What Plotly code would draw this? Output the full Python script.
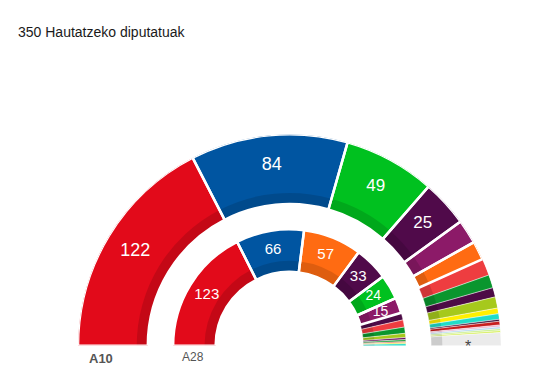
import plotly.graph_objects as go

TOTAL = 350

# Outer ring (A10)
outer_values = [122, 84, 49, 25, 13, 10, 9, 7, 5, 6, 3, 3, 1, 2, 1, 1, 1, 1, 7]
outer_colors = ["#e20a1a", "#0055a1", "#00c11f", "#500a4a", "#8c1a68", "#ff6b12",
                "#ee3d40", "#0a962e", "#4d0b46", "#a6c91c", "#fff000", "#20dcc8",
                "#3a0a35", "#c81e1e", "#f0b4d0", "#b4d8f0", "#c8f08c", "#d8f060", "#ebebeb"]
outer_text = ["122", "84", "49", "25", "", "", "", "", "", "", "", "", "", "", "", "", "", "", "*"]

# Inner ring (A28)
inner_values = [123, 66, 57, 33, 24, 15, 7, 7, 6, 4, 2, 2, 1, 1, 2]
inner_colors = ["#e20a1a", "#0055a1", "#ff6b12", "#500a4a", "#00c11f", "#8c1a68",
                "#4d0b46", "#ee3d40", "#0a962e", "#a6c91c", "#6a1060", "#22a040",
                "#d02020", "#f0e000", "#20dcc8"]
inner_text = ["123", "66", "57", "33", "24", "15", "", "", "", "", "", "", "", "", ""]

ring_labels = ["A10", "A28"]
title_text = "350 Hautatzeko diputatuak"

R_OUT = (140, 209)
R_IN = (73, 115)
BAND = 11


def ring_geometry(values):
    centers, widths = [], []
    cum = 0
    for v in values:
        w = v * 180.0 / TOTAL
        centers.append(cum * 180.0 / TOTAL + w / 2)
        widths.append(w)
        cum += v
    return centers, widths


fig = go.Figure()

for values, colors, texts, (r0, r1), sizes in [
    (outer_values, outer_colors, outer_text, R_OUT, 17),
    (inner_values, inner_colors, inner_text, R_IN, 15),
]:
    th, wd = ring_geometry(values)
    n = len(values)
    lw = [2.5 if v >= 10 else 0.6 for v in values]
    lc = ["white" if v >= 10 else "rgba(255,255,255,0.55)" for v in values]
    fig.add_trace(go.Barpolar(
        r=[r1 - r0] * n, base=[r0] * n, theta=th, width=wd,
        marker=dict(color=colors, line=dict(width=0)), hoverinfo="skip"))
    fig.add_trace(go.Barpolar(
        r=[BAND] * n, base=[r0] * n, theta=th, width=wd,
        marker=dict(color="rgba(0,0,0,0.13)", line=dict(width=0)), hoverinfo="skip"))
    fig.add_trace(go.Barpolar(
        r=[r1 - r0] * n, base=[r0] * n, theta=th, width=wd,
        marker=dict(color="rgba(0,0,0,0)", line=dict(color=lc, width=lw)),
        hoverinfo="skip"))
    tcol = ["#444444" if t == "*" else "white" for t in texts]
    tpos = ["bottom center" if t == "*" else "middle center" for t in texts]
    tsize = []
    for v, t in zip(values, texts):
        if t == "*":
            tsize.append(16)
        elif v >= 60:
            tsize.append(sizes + 1 if r0 > 100 else 15)
        elif v >= 25:
            tsize.append(sizes)
        else:
            tsize.append(sizes - 1)
    rmid = (r0 + r1) / 2 + (4 if r0 > 100 else 2)
    fig.add_trace(go.Scatterpolar(
        r=[rmid if t != "*" else rmid - 2 for t in texts], theta=th, text=texts, mode="text",
        textposition=tpos,
        textfont=dict(color=tcol, size=tsize, family="Liberation Sans, Arial, sans-serif"),
        hoverinfo="skip"))

W, H = 543, 374
fig.update_layout(
    width=W, height=H, margin=dict(l=0, r=0, t=0, b=0),
    paper_bgcolor="white", plot_bgcolor="white", showlegend=False,
    font=dict(family="Liberation Sans, Arial, sans-serif"),
    polar=dict(
        domain=dict(x=[78 / W, 501 / W], y=[(H - 346) / H, (H - 134) / H]),
        sector=[0, 180], hole=0, bgcolor="rgba(0,0,0,0)",
        radialaxis=dict(range=[0, 209], visible=False, showgrid=False),
        angularaxis=dict(rotation=180, direction="clockwise", visible=False,
                         showgrid=False),
        barmode="overlay",
    ),
    annotations=[
        dict(text=title_text, x=16 / W, y=1 - 32 / H, xref="paper",
             yref="paper", xanchor="left", yanchor="middle", showarrow=False,
             font=dict(size=14, color="#1a1a1a")),
        dict(text="<b>" + ring_labels[0] + "</b>", x=101 / W, y=1 - 358 / H, xref="paper",
             yref="paper", xanchor="center", yanchor="middle", showarrow=False,
             font=dict(size=13, color="#555555")),
        dict(text=ring_labels[1], x=193 / W, y=1 - 357 / H, xref="paper",
             yref="paper", xanchor="center", yanchor="middle", showarrow=False,
             font=dict(size=12, color="#555555")),
    ],
)

fig.write_html("out.html", config={"displayModeBar": False},
               post_script="document.body.style.margin='0';")
